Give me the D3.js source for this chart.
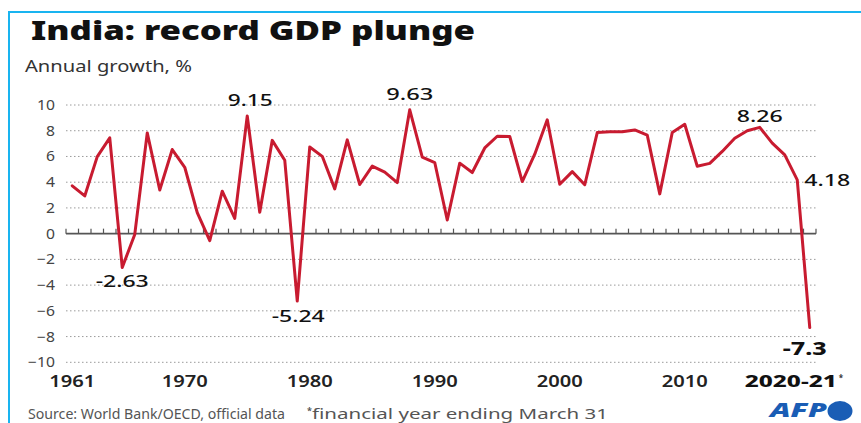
<!DOCTYPE html>
<html>
<head>
<meta charset="utf-8">
<script src="https://cdn.jsdelivr.net/npm/d3@7"></script>
<style>
  html, body { margin: 0; padding: 0; background: #fff; }
  svg { display: block; font-family: "Noto Sans", "Open Sans", sans-serif; }
</style>
</head>
<body>
<svg id="chart" width="861" height="423"></svg>
<script>
// ---- Data ----
const years = d3.range(1961, 2021);
const growth = [
  3.72, 2.93, 5.99, 7.45, -2.63, -0.06, 7.83, 3.39, 6.54, 5.16,
  1.64, -0.55, 3.30, 1.19, 9.15, 1.66, 7.25, 5.71, -5.24, 6.74,
  6.01, 3.48, 7.29, 3.82, 5.25, 4.78, 3.97, 9.63, 5.95, 5.53,
  1.06, 5.48, 4.75, 6.66, 7.57, 7.55, 4.05, 6.18, 8.85, 3.84,
  4.82, 3.80, 7.86, 7.92, 7.92, 8.06, 7.66, 3.09, 7.86, 8.50,
  5.24, 5.46, 6.39, 7.41, 8.00, 8.26, 7.04, 6.12, 4.18, -7.30
];
const yTicks = [10, 8, 6, 4, 2, 0, -2, -4, -6, -8, -10];
const xTickYears = [1961, 1970, 1980, 1990, 2000, 2010, 2020];
const xTickLabels = ["1961", "1970", "1980", "1990", "2000", "2010", "2020-21"];
const annoYears = [1975, 1988, 2016, 2019, 1965, 1979, 2020];
const annoLabels = ["9.15", "9.63", "8.26", "4.18", "-2.63", "-5.24", "-7.3"];

const title = "India: record GDP plunge";
const subtitle = "Annual growth, %";
const source = "Source: World Bank/OECD, official data";
const note = "financial year ending March 31";

const data = years.map((y, i) => ({ year: y, value: growth[i] }));

// ---- Setup ----
const svg = d3.select("#chart");
const X0 = 66, X1 = 816;
const x = d3.scaleBand().domain(years).range([X0, X1]).padding(0);
const xc = yr => x(yr) + x.bandwidth() / 2;
const y = d3.scaleLinear().domain([-10, 10]).range([362.3, 105]);

function fit(sel, w) {
  sel.attr("textLength", w).attr("lengthAdjust", "spacingAndGlyphs");
  return sel;
}
function stretch(sel, k) {
  sel.each(function () {
    const n = this.getComputedTextLength();
    d3.select(this).attr("textLength", n * k).attr("lengthAdjust", "spacingAndGlyphs");
  });
  return sel;
}

// Border (top & left, light blue)
svg.append("line").attr("x1", 8).attr("x2", 861).attr("y1", 12).attr("y2", 12)
  .attr("stroke", "#19b4f0").attr("stroke-width", 2);
svg.append("line").attr("x1", 9).attr("x2", 9).attr("y1", 11).attr("y2", 423)
  .attr("stroke", "#19b4f0").attr("stroke-width", 2);

// Title & subtitle
fit(svg.append("text").attr("x", 31).attr("y", 40)
  .attr("font-size", 27).attr("font-weight", 900).attr("fill", "#111").text(title), 444);
fit(svg.append("text").attr("x", 25).attr("y", 72)
  .attr("font-size", 17).attr("fill", "#333").text(subtitle), 167);

// Gridlines
const grid = svg.append("g");
grid.selectAll("line").data(yTicks.filter(d => d !== 0)).join("line")
  .attr("x1", X0).attr("x2", X1)
  .attr("y1", d => y(d)).attr("y2", d => y(d))
  .attr("stroke", "#9a9a9a").attr("stroke-width", 1)
  .attr("stroke-dasharray", "1.5,2.5");

// Y axis labels via d3 axis
const yAxis = svg.append("g").attr("transform", `translate(${X0},0)`)
  .call(d3.axisLeft(y).tickValues(yTicks).tickSize(0).tickPadding(11).tickFormat(d3.format("d")));
yAxis.select(".domain").remove();
yAxis.selectAll("text").attr("font-size", 14).attr("fill", "#444")
  .attr("font-family", "Noto Sans, sans-serif");
stretch(yAxis.selectAll("text"), 1.12);

// Zero line with ticks at band edges
svg.append("line").attr("x1", X0).attr("x2", X1).attr("y1", y(0)).attr("y2", y(0))
  .attr("stroke", "#555").attr("stroke-width", 1.6);
const edges = years.map(yr => x(yr)).concat([X1]);
svg.append("g").selectAll("line").data(edges).join("line")
  .attr("x1", d => d).attr("x2", d => d)
  .attr("y1", y(0)).attr("y2", y(0) - 5)
  .attr("stroke", "#555").attr("stroke-width", 1.2);

// Line
svg.append("path").datum(data)
  .attr("fill", "none").attr("stroke", "#c81b30").attr("stroke-width", 3)
  .attr("stroke-linejoin", "round").attr("stroke-linecap", "round")
  .attr("d", d3.line().x(d => xc(d.year)).y(d => y(d.value)));

// X axis labels
const xl = svg.append("g");
xTickYears.forEach((yr, i) => {
  const last = i === xTickYears.length - 1;
  const t = xl.append("text")
    .attr("x", last ? xc(yr) + 27 : xc(yr))
    .attr("y", 387)
    .attr("text-anchor", last ? "end" : "middle")
    .attr("font-size", last ? 16 : 15.5)
    .attr("font-weight", last ? 800 : 600)
    .attr("fill", last ? "#111" : "#222")
    .text(xTickLabels[i]);
  fit(t, last ? 92 : 46);
  if (last) {
    xl.append("text").attr("x", xc(yr) + 29).attr("y", 381)
      .attr("font-size", 8).attr("font-weight", 700).attr("fill", "#333").text("*");
  }
});

// Annotations
const annoStyle = {
  1975: { dx: 3, dy: -10, anchor: "middle", w: 45 },
  1988: { dx: 0, dy: -10, anchor: "middle", w: 47 },
  2016: { dx: 0, dy: -5, anchor: "middle", w: 46 },
  2019: { dx: 7, dy: 6, anchor: "start", w: 46 },
  1965: { dx: 0, dy: 19.5, anchor: "middle", w: 53 },
  1979: { dx: 1, dy: 20.5, anchor: "middle", w: 53 },
  2020: { dx: -5, dy: 27.5, anchor: "middle", w: 44, bold: true }
};
annoYears.forEach((yr, i) => {
  const d = data.find(e => e.year === yr);
  const s = annoStyle[yr];
  const t = svg.append("text")
    .attr("x", xc(yr) + s.dx).attr("y", y(d.value) + s.dy)
    .attr("text-anchor", s.anchor)
    .attr("font-size", 17).attr("font-weight", s.bold ? 800 : 500)
    .attr("fill", "#111").text(annoLabels[i]);
  fit(t, s.w);
});

// Footer
fit(svg.append("text").attr("x", 28).attr("y", 419).attr("font-size", 14)
  .attr("fill", "#555").text(source), 257);
svg.append("text").attr("x", 307).attr("y", 414).attr("font-size", 9)
  .attr("font-weight", 700).attr("fill", "#555").text("*");
fit(svg.append("text").attr("x", 312).attr("y", 419).attr("font-size", 14)
  .attr("fill", "#555").text(note), 296);

// AFP logo
fit(svg.append("text").attr("x", 770).attr("y", 417).attr("font-size", 20)
  .attr("font-weight", 900).attr("font-style", "italic").attr("fill", "#1a5db5").text("AFP"), 57);
svg.append("ellipse").attr("cx", 840).attr("cy", 411).attr("rx", 12.5).attr("ry", 10)
  .attr("fill", "#1a5db5");
</script>
</body>
</html>
